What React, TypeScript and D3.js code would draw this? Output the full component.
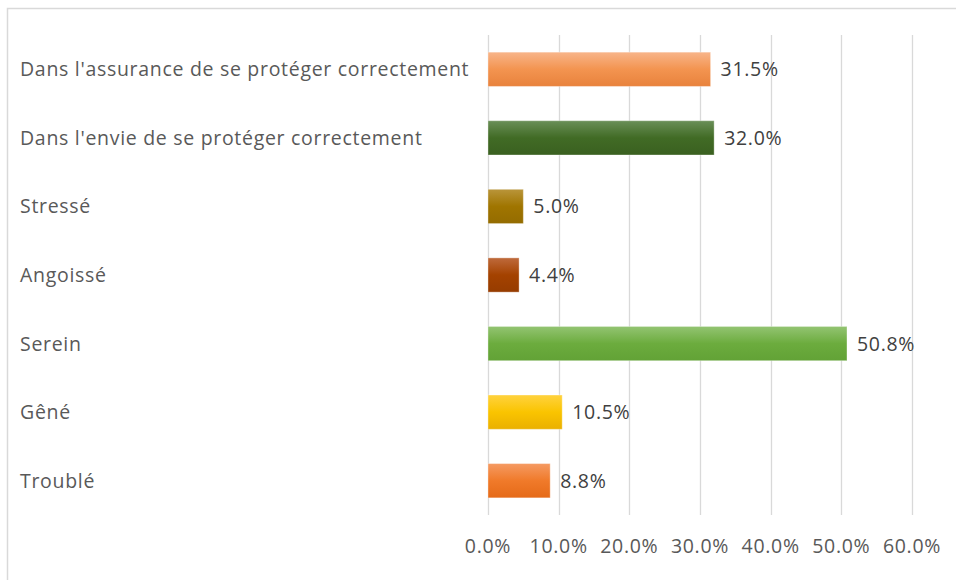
import React, { useEffect, useRef } from "react";
import * as d3 from "d3";

const categories = [
  "Dans l'assurance de se protéger correctement",
  "Dans l'envie de se protéger correctement",
  "Stressé",
  "Angoissé",
  "Serein",
  "Gêné",
  "Troublé",
];
const values = [31.5, 32.0, 5.0, 4.4, 50.8, 10.5, 8.8];
const tickValues = [0, 10, 20, 30, 40, 50, 60];
// [top, middle, bottom] of each bar's gradient
const barColors = [
  ["#f8b58a", "#f39450", "#e8823c"],
  ["#6a8f58", "#416b25", "#3a6020"],
  ["#b9953a", "#a07500", "#946c00"],
  ["#bf6a3c", "#a44200", "#963c00"],
  ["#93c472", "#6cac3e", "#62a236"],
  ["#ffd23e", "#fac400", "#eab000"],
  ["#f59a62", "#f07a2a", "#e56a18"],
];

const width = 956;
const height = 580;
const margin = { top: 35, right: 44, bottom: 65, left: 488 };
const font = "'Open Sans', sans-serif";
const fontSize = "19.5px";
const spacing = "0.7px";

export default function App() {
  const svgRef = useRef<SVGSVGElement>(null);

  useEffect(() => {
    const root = d3.select(svgRef.current);
    root.selectAll("*").remove();

    const plotWidth = width - margin.left - margin.right;
    const plotHeight = height - margin.top - margin.bottom;

    const defs = root.append("defs");
    barColors.forEach((c, i) => {
      const grad = defs
        .append("linearGradient")
        .attr("id", `bar-grad-${i}`)
        .attr("x1", 0)
        .attr("y1", 0)
        .attr("x2", 0)
        .attr("y2", 1);
      grad.append("stop").attr("offset", "0%").attr("stop-color", c[0]);
      grad.append("stop").attr("offset", "50%").attr("stop-color", c[1]);
      grad.append("stop").attr("offset", "100%").attr("stop-color", c[2]);
    });

    // chart frame (cropped at right and bottom)
    root
      .append("path")
      .attr("d", `M7.5,${height} V8.5 H${width}`)
      .attr("fill", "none")
      .attr("stroke", "#d9d9d9")
      .attr("stroke-width", 1.5);

    const svg = root
      .append("g")
      .attr("transform", `translate(${margin.left}, ${margin.top})`);

    const xScale = d3.scaleLinear().domain([0, 60]).range([0, plotWidth]);

    const yScale = d3
      .scaleBand()
      .domain(categories)
      .range([0, plotHeight])
      .paddingInner(0.5)
      .paddingOuter(0.25);

    // grid lines
    svg
      .append("g")
      .selectAll("line")
      .data(tickValues)
      .enter()
      .append("line")
      .attr("x1", (d) => Math.round(xScale(d)) + 0.5)
      .attr("x2", (d) => Math.round(xScale(d)) + 0.5)
      .attr("y1", 0)
      .attr("y2", plotHeight)
      .attr("stroke", "#d9d9d9")
      .attr("stroke-width", 1.3);

    // X axis labels
    svg
      .append("g")
      .selectAll("text")
      .data(tickValues)
      .enter()
      .append("text")
      .attr("x", (d) => xScale(d))
      .attr("y", plotHeight + 38)
      .attr("text-anchor", "middle")
      .attr("fill", "#595959")
      .style("font-family", font)
      .style("font-size", fontSize)
      .style("letter-spacing", spacing)
      .text((d) => `${d.toFixed(1)}%`);

    // category labels
    root
      .append("g")
      .selectAll("text")
      .data(categories)
      .enter()
      .append("text")
      .attr("x", 20)
      .attr("y", (d) => margin.top + yScale(d)! + yScale.bandwidth() / 2)
      .attr("dy", "0.36em")
      .attr("fill", "#595959")
      .style("font-family", font)
      .style("font-size", fontSize)
      .style("letter-spacing", spacing)
      .text((d) => d);

    // Bars
    svg
      .selectAll("rect.bar")
      .data(values)
      .enter()
      .append("rect")
      .attr("class", "bar")
      .attr("x", 0)
      .attr("y", (d, i) => yScale(categories[i])!)
      .attr("width", (d) => xScale(d))
      .attr("height", yScale.bandwidth())
      .attr("fill", (d, i) => `url(#bar-grad-${i})`)
      .attr("stroke", "#ffffff")
      .attr("stroke-opacity", 0.35)
      .attr("stroke-width", 1);

    // value labels
    svg
      .selectAll("text.value")
      .data(values)
      .enter()
      .append("text")
      .attr("class", "value")
      .attr("x", (d) => xScale(d) + 10)
      .attr("y", (d, i) => yScale(categories[i])! + yScale.bandwidth() / 2)
      .attr("dy", "0.36em")
      .attr("fill", "#404040")
      .style("font-family", font)
      .style("font-size", fontSize)
      .style("letter-spacing", spacing)
      .text((d) => `${d.toFixed(1)}%`);
  }, []);

  return (
    <svg
      ref={svgRef}
      width={width}
      height={height}
      style={{ position: "absolute", left: 0, top: 0, background: "#fff" }}
    />
  );
}
